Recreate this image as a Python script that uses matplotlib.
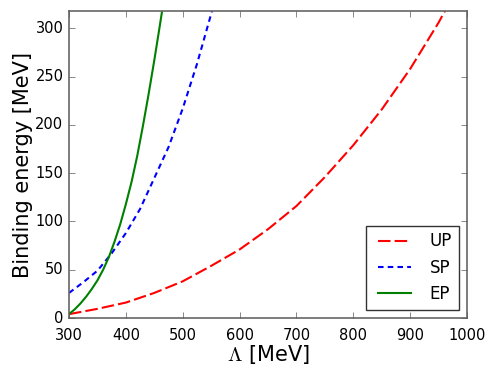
import matplotlib
matplotlib.use("Agg")
import matplotlib.pyplot as plt

plt.style.use('classic')

# Valeurs (Lambda en MeV, énergie de liaison en MeV)
lam_up = [300, 350, 400, 450, 500, 550, 600, 650, 700, 750, 800, 850, 900, 950, 1000]
e_up = [4, 9.5, 16, 26, 38, 54, 71, 92, 116, 146, 179, 216, 258, 306, 360]

lam_sp = [300, 325, 350, 375, 400, 425, 450, 475, 500, 525, 550, 560]
e_sp = [26, 37, 49, 67, 88, 113, 145, 177, 217, 263, 315, 337]

lam_ep = [300, 310, 320, 330, 340, 350, 360, 370, 380, 390, 400, 410, 420, 430, 440, 450, 460, 470]
e_ep = [4, 9, 15, 22, 30, 39, 50, 63, 79, 97, 118, 141, 168, 199, 232, 267, 304, 342]

fig = plt.figure(figsize=(4.98, 3.74), dpi=100)
ax = fig.add_axes([0.1386, 0.1497, 0.7992, 0.8209])

ax.plot(lam_up, e_up, color='red', lw=1.5, dashes=(9, 3), label='UP')
ax.plot(lam_sp, e_sp, color='blue', lw=1.5, dashes=(4, 3), label='SP')
ax.plot(lam_ep, e_ep, color='green', lw=1.5, label='EP')

ax.set_xlim(300, 1000)
ax.set_ylim(0, 318)
ax.set_xticks(range(300, 1001, 100))
ax.set_yticks(range(0, 301, 50))
ax.tick_params(labelsize=10.5, colors='0.35', labelcolor='black')
ax.tick_params(axis='x', pad=7.5)
for s in ax.spines.values():
    s.set_color('0.4')
    s.set_linewidth(1.2)

ax.set_xlabel(r'$\Lambda$ [MeV]', fontsize=15, labelpad=0)
ax.set_ylabel('Binding energy [MeV]', fontsize=15, labelpad=2)

leg = ax.legend(loc='lower right', fontsize=12, handlelength=2.6)
leg.get_frame().set_edgecolor('0.2')

fig.savefig('out.png', dpi=100)
